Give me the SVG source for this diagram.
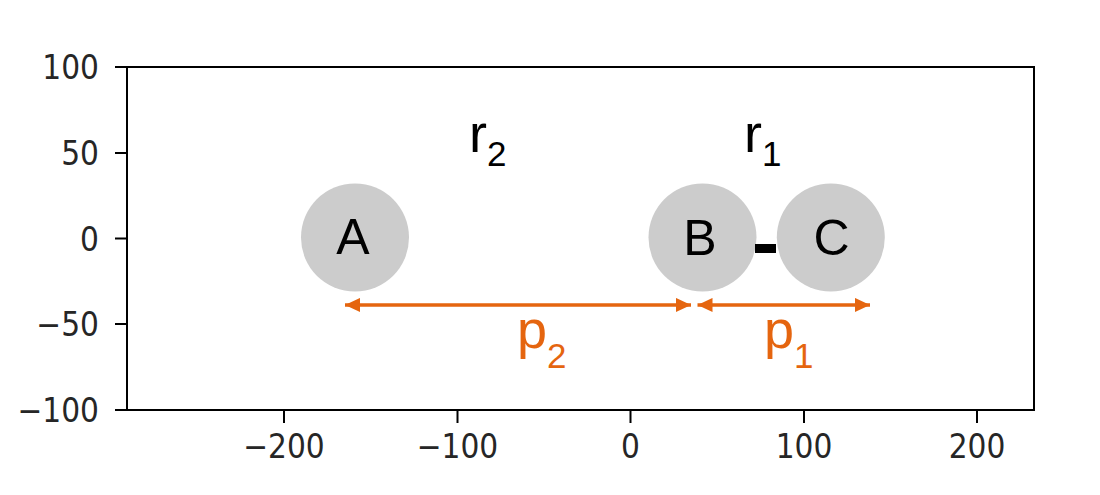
<svg xmlns="http://www.w3.org/2000/svg" width="1100" height="495" viewBox="0 0 1100 495">
<style>
.tick{stroke:#000;stroke-width:2}
.tl{font-family:"DejaVu Sans Condensed","DejaVu Sans",sans-serif;font-size:33px;fill:#262626}
.node{fill:#cccccc}
.lbl{font-family:"Liberation Sans",Arial,sans-serif;font-size:50px;fill:#000}
.big{font-size:54px}
.sub{font-size:35px}
.dim{stroke:#e5650f;stroke-width:3.5;fill:none}
.olbl{font-family:"Liberation Sans",Arial,sans-serif;font-size:54px;fill:#e5650f}
</style>
<defs>
<marker id="ah" viewBox="0 0 10 10" refX="10" refY="5" markerUnits="userSpaceOnUse" markerWidth="15" markerHeight="15" orient="auto-start-reverse">
<path d="M0,0.3 L10,5 L0,9.7 z" fill="#e5650f"/>
</marker>
</defs>
<rect width="1100" height="495" fill="#fff"/>
<g id="axes">
<rect x="127" y="67" width="907" height="343" fill="none" stroke="#000" stroke-width="2"/>
<line class="tick" x1="115" y1="67" x2="127" y2="67"/>
<line class="tick" x1="115" y1="153" x2="127" y2="153"/>
<line class="tick" x1="115" y1="238.5" x2="127" y2="238.5"/>
<line class="tick" x1="115" y1="324" x2="127" y2="324"/>
<line class="tick" x1="115" y1="410" x2="127" y2="410"/>
<text class="tl" x="99" y="79" text-anchor="end">100</text>
<text class="tl" x="99" y="165" text-anchor="end">50</text>
<text class="tl" x="99" y="250.5" text-anchor="end">0</text>
<text class="tl" x="99" y="336" text-anchor="end">−50</text>
<text class="tl" x="99" y="422" text-anchor="end">−100</text>
<line class="tick" x1="284" y1="410" x2="284" y2="423"/>
<line class="tick" x1="457.5" y1="410" x2="457.5" y2="423"/>
<line class="tick" x1="630.5" y1="410" x2="630.5" y2="423"/>
<line class="tick" x1="804" y1="410" x2="804" y2="423"/>
<line class="tick" x1="977" y1="410" x2="977" y2="423"/>
<text class="tl" x="284" y="458" text-anchor="middle">−200</text>
<text class="tl" x="457.5" y="458" text-anchor="middle">−100</text>
<text class="tl" x="630.5" y="458" text-anchor="middle">0</text>
<text class="tl" x="804" y="458" text-anchor="middle">100</text>
<text class="tl" x="977" y="458" text-anchor="middle">200</text>
</g>
<g id="node-A">
<circle class="node" cx="355" cy="237.5" r="54"/>
<text class="lbl" x="353" y="254" text-anchor="middle">A</text>
</g>
<g id="node-B">
<circle class="node" cx="702.5" cy="237.5" r="54"/>
<text class="lbl" x="700" y="255" text-anchor="middle">B</text>
</g>
<g id="node-C">
<circle class="node" cx="830.8" cy="237.5" r="54"/>
<text class="lbl" x="831.5" y="255" text-anchor="middle">C</text>
</g>
<g id="bond">
<rect x="755" y="244" width="21" height="9" fill="#000"/>
</g>
<g id="labels-r">
<text class="lbl big" x="469" y="152">r<tspan class="sub" dy="14">2</tspan></text>
<text class="lbl big" x="744" y="152">r<tspan class="sub" dy="14">1</tspan></text>
</g>
<g id="connectors">
<line class="dim" x1="345" y1="305" x2="691" y2="305" marker-start="url(#ah)" marker-end="url(#ah)"/>
<line class="dim" x1="697.5" y1="305" x2="870" y2="305" marker-start="url(#ah)" marker-end="url(#ah)"/>
</g>
<g id="labels-p">
<text class="olbl" x="517" y="348">p<tspan class="sub" dy="20">2</tspan></text>
<text class="olbl" x="764" y="348">p<tspan class="sub" dy="20">1</tspan></text>
</g>
</svg>
